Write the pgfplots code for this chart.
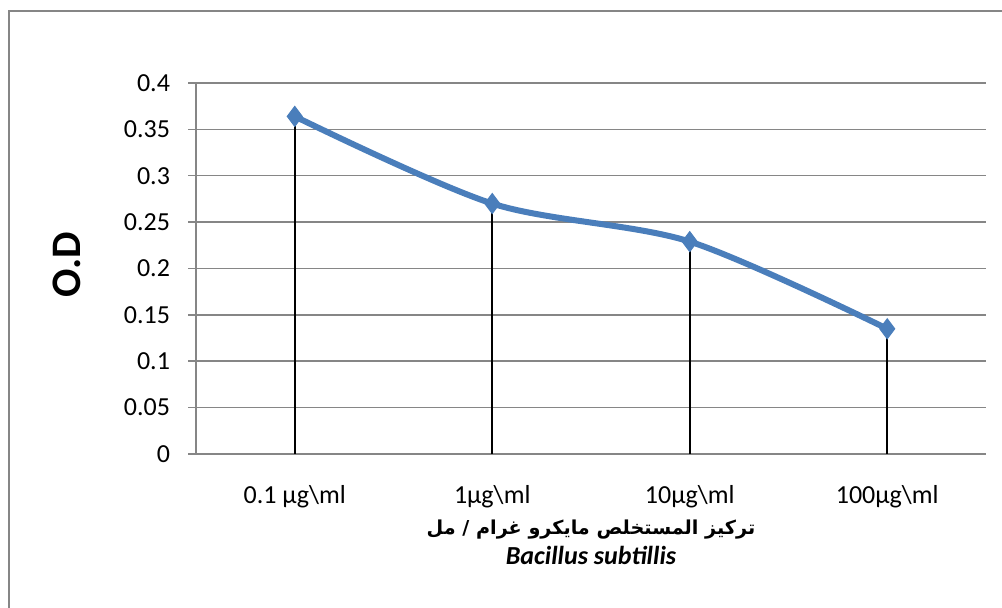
\documentclass[border=0pt]{standalone}
\usepackage{fontspec}
\setmainfont{Carlito}
\newfontfamily\arabicfont[Script=Arabic]{DejaVu Sans}
\TeXXeTstate=1
\usepackage{pgfplots}
\pgfplotsset{compat=1.18}
\definecolor{gridgray}{RGB}{134,134,134}
\definecolor{lineblue}{RGB}{74,126,187}
\begin{document}
\begin{tikzpicture}
\useasboundingbox (0,0) rectangle (501pt,304pt);
\draw[gridgray, line width=0.75pt] (4.5pt,-2pt) -- (4.5pt,298.5pt) -- (505pt,298.5pt);
\begin{axis}[
  at={(98pt,77pt)}, anchor=south west,
  scale only axis,
  width=395pt, height=185.5pt,
  xmin=-0.5, xmax=3.5,
  ymin=0, ymax=0.4,
  ytick={0,0.05,...,0.4},
  yticklabels={0,0.05,0.1,0.15,0.2,0.25,0.3,0.35,0.4},
  xtick={0,1,2,3},
  xticklabels={0.1 μg\textbackslash ml, 1μg\textbackslash ml, 10μg\textbackslash ml, 100μg\textbackslash ml},
  axis x line=bottom, axis y line=left,
  axis line style={-, gridgray, line width=0.75pt},
  x axis line style={shorten <=-4pt},
  ymajorgrids,
  major grid style={gridgray, line width=0.75pt},
  ytick style={gridgray, line width=0.75pt},
  tick align=outside,
  major tick length=4pt,
  xtick style={draw=none},
  tick label style={font=\fontsize{13}{15}\selectfont, /pgf/number format/assume math mode=true},
  yticklabel style={xshift=-5.5pt},
  xticklabel style={yshift=-8pt},
  clip=false,
]
\addplot[ycomb, black, line width=0.8pt, mark=none] coordinates {(0,0.364) (1,0.270) (2,0.229) (3,0.135)};
\addplot[smooth, lineblue, line width=3pt, mark=diamond*, mark size=5pt, mark options={fill=lineblue, draw=lineblue, line width=0.5pt}] coordinates {(0,0.364) (1,0.270) (2,0.229) (3,0.135)};
\node[font=\arabicfont\bfseries\fontsize{9.6}{11}\selectfont] at (rel axis cs:0.5,0) [yshift=-38pt] {\beginR تركيز المستخلص مايكرو غرام / مل\endR};
\node[font=\bfseries\itshape\fontsize{13}{15}\selectfont] at (rel axis cs:0.5,0) [yshift=-50.5pt] {Bacillus subtillis};
\end{axis}
\node[rotate=90, font=\bfseries\fontsize{21}{24}\selectfont] at (33.5pt,171.5pt) {O.D};
\end{tikzpicture}
\end{document}
